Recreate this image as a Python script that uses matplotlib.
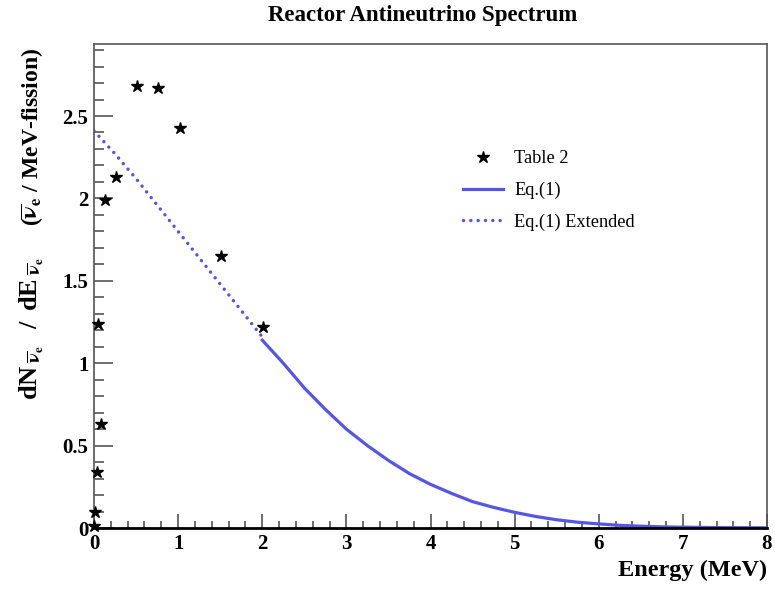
import numpy as np
import matplotlib
matplotlib.use('Agg')
import matplotlib.pyplot as plt
from matplotlib.ticker import MultipleLocator, FormatStrFormatter

plt.rcParams['font.family'] = ['Liberation Serif', 'DejaVu Serif']
plt.rcParams['mathtext.fontset'] = 'stix'

# Table 2 points (energy in MeV, dN/dE)
table_e = [0.0, 0.01, 0.03, 0.08, 0.05, 0.13, 0.26, 0.51, 0.76, 1.02, 1.51, 2.01]
table_n = [0.01, 0.10, 0.34, 0.63, 1.24, 1.99, 2.13, 2.68, 2.67, 2.43, 1.65, 1.22]

# Eq.(1), extended part below 2 MeV
ext_e = [0.0, 0.25, 0.5, 0.75, 1.0, 1.25, 1.5, 1.75, 2.0]
ext_n = [2.41, 2.27, 2.12, 1.96, 1.80, 1.64, 1.48, 1.32, 1.16]

eq_e = [2.0, 2.25, 2.5, 2.75, 3.0, 3.25, 3.5, 3.75, 4.0, 4.25, 4.5, 4.75,
        5.0, 5.25, 5.5, 5.75, 6.0, 6.25, 6.5, 6.75, 7.0, 7.5, 8.0]
eq_n = [1.14, 1.00, 0.85, 0.72, 0.60, 0.50, 0.41, 0.33, 0.265, 0.21, 0.16,
        0.125, 0.095, 0.07, 0.05, 0.035, 0.025, 0.016, 0.011, 0.007, 0.005,
        0.002, 0.001]

blue = '#5555e6'
frame = '#555555'

fig = plt.figure(figsize=(7.75, 5.92), dpi=100)
ax = fig.add_axes([94/775, 1-528/592, (767-94)/775, (528-43.5)/592])

ax.plot(eq_e, eq_n, color=blue, lw=2.3, label='Eq.(1)')
ax.plot(ext_e, ext_n, color=blue, lw=2.5, linestyle=(0, (0.01, 2.1)),
        dash_capstyle='round', label='Eq.(1) Extended')
ax.plot(table_e, table_n, linestyle='none', marker='*', color='black',
        markersize=9, label='Table 2', zorder=5, clip_on=False)

ax.set_xlim(0, 8)
ax.set_ylim(0, 2.94)

ax.xaxis.set_major_locator(MultipleLocator(1))
ax.xaxis.set_minor_locator(MultipleLocator(0.2))
ax.yaxis.set_major_locator(MultipleLocator(0.5))
ax.yaxis.set_minor_locator(MultipleLocator(0.1))
ax.yaxis.set_major_formatter(FormatStrFormatter('%g'))
ax.xaxis.set_major_formatter(FormatStrFormatter('%g'))

ax.tick_params(axis='both', which='both', direction='in', colors=frame,
               labelcolor='black', labelsize=15)
ax.tick_params(axis='x', which='major', length=10, width=1.2, pad=4)
ax.tick_params(axis='x', which='minor', length=5, width=1.2)
ax.tick_params(axis='y', which='major', length=14, width=1.2, pad=4)
ax.tick_params(axis='y', which='minor', length=7, width=1.2)
for lab in ax.get_xticklabels() + ax.get_yticklabels():
    lab.set_fontweight('bold')

for s in ['left', 'right', 'top']:
    ax.spines[s].set_color(frame)
    ax.spines[s].set_linewidth(1.2)
ax.spines['bottom'].set_color('black')
ax.spines['bottom'].set_linewidth(2)

ax.set_xlabel('Energy (MeV)', fontsize=17.5, fontweight='bold', loc='right')
ax.xaxis.set_label_coords(1.0, -0.066)

# y title in two pieces, like the ROOT one
nu = r'\overline{\mathbf{\nu}}_{\mathbf{e}}'
fig.text(38/775, 1-400/592,
         r'dN$_{\;' + nu + r'}\;\;\;$/$\;\;$dE$_{\;' + nu + r'}$',
         rotation=90, rotation_mode='anchor', ha='left', va='baseline',
         fontsize=19, fontweight='bold')
fig.text(38/775, 1-48/592, r'($' + nu + r'$ / MeV-fission)',
         rotation=90, rotation_mode='anchor', ha='right', va='baseline',
         fontsize=17, fontweight='bold')

fig.text(423/775, 1-15/592, 'Reactor Antineutrino Spectrum', fontsize=16.5,
         fontweight='bold', ha='center', va='center')

h, l = ax.get_legend_handles_labels()
order = [2, 0, 1]
ax.legend([h[i] for i in order], [l[i] for i in order], frameon=False,
          loc='upper left', bbox_to_anchor=(463/775, 1-150/592),
          bbox_transform=fig.transFigure, fontsize=13.2, handlelength=2.2,
          handletextpad=0.6, labelspacing=0.8, borderpad=0, borderaxespad=0)

fig.savefig('out.png', dpi=100)
